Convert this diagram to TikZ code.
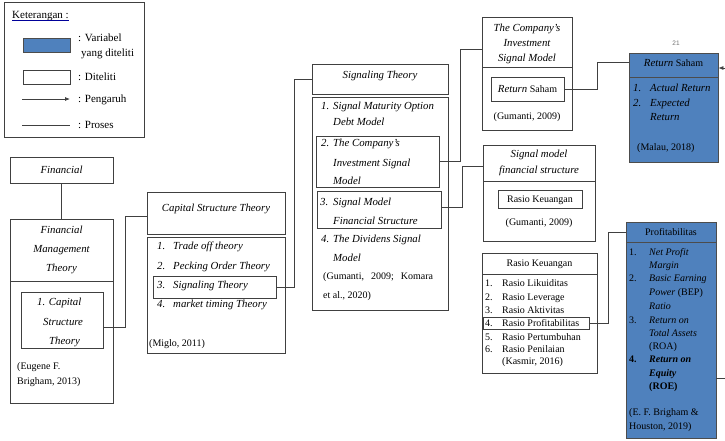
\documentclass[tikz,border=0pt]{standalone}
\usepackage{fontspec}
\setmainfont{Liberation Serif}
\setsansfont{Liberation Sans}
\usetikzlibrary{fit,arrows.meta}
\definecolor{bluefill}{HTML}{4F81BD}
\definecolor{ln}{HTML}{404040}
\newcounter{tn}
\newcommand\Tl[3]{\stepcounter{tn}\node[txl] (t\arabic{tn}) at (#1,#2+3.5) {#3};}
\newcommand\Tc[3]{\stepcounter{tn}\node[txc] (t\arabic{tn}) at (#1,#2+3.5) {#3};}
\newcommand\Bx[6][]{\node[bx,#1,fit={(#3,#4) (#5,#6)}] (#2) {};}
\newcommand\ii[1]{{\fontsize{10.8}{13}\selectfont\itshape #1}}
\newcommand\legtx[1]{{\fontsize{11}{13}\selectfont #1}}
\begin{document}
\begin{tikzpicture}[x=1pt,y=-1pt,
  txl/.style={anchor=base west,inner sep=0pt,font=\fontsize{10}{12}\selectfont},
  txc/.style={anchor=base,inner sep=0pt,font=\fontsize{10}{12}\selectfont},
  bx/.style={draw=ln,line width=0.75pt,inner sep=0pt},
  bluebx/.style={fill=bluefill,draw=black!70},
  conn/.style={draw=ln,line width=0.75pt},
  arr/.style={conn,-{Latex[length=5pt,width=4pt]}}]
\path[fill=white] (0,0) rectangle (725,440);
\useasboundingbox (0,0) rectangle (725,440);

% ---------- legend ----------
\Bx{leg}{4}{2}{144}{137}
\stepcounter{tn}\node[txl] (keter) at (12,18.5) {\legtx{Keterangan :}};
\draw[blue!60!black,line width=0.5pt] ([yshift=-2pt]keter.base west) -- ([yshift=-2pt]keter.base east);
\Bx[bluebx]{legblue}{23}{38}{70}{52}
\Bx{legwhite}{23}{70}{70}{84}
\coordinate (la1) at (22,99); \coordinate (la2) at (70,99);
\draw[arr] (la1) -- (la2);
\coordinate (ll1) at (22,125); \coordinate (ll2) at (70,125);
\draw[conn] (ll1) -- (ll2);
\Tl{78}{38}{\legtx{: Variabel}}
\Tl{81}{53}{\legtx{yang diteliti}}
\Tl{78}{77}{\legtx{: Diteliti}}
\Tl{78}{99}{\legtx{: Pengaruh}}
\Tl{78}{125}{\legtx{: Proses}}

% ---------- Financial ----------
\Bx{fin}{10}{157}{113}{183}
\Tc{61.5}{170}{\ii{Financial}}
\Bx{fmt}{10}{219}{113}{281}
\Bx{fmb}{10}{281}{113}{403}
\Tc{61.5}{230}{\ii{Financial}}
\Tc{61.5}{249}{\ii{Management}}
\Tc{61.5}{268}{\ii{Theory}}
\Bx{fmcap}{21}{292}{103}{348}
\Tl{37}{302}{\ii{1. Capital}}
\Tl{43}{322}{\ii{Structure}}
\Tl{49}{341}{\ii{Theory}}
\Tl{17}{366}{(Eugene F.}
\Tl{17}{381}{Brigham, 2013)}
\draw[conn] (fin.south) -- (fin.south |- fmt.north);

% ---------- Capital Structure Theory ----------
\Bx{cst}{147}{192}{285}{234}
\Bx{csb}{147}{237}{285}{353}
\Tc{216}{208}{\ii{Capital Structure Theory}}
\Bx{cs3}{153}{276}{276}{298}
\Tl{157}{246}{\ii{1.}} \Tl{173}{246}{\ii{Trade off theory}}
\Tl{157}{266}{\ii{2.}} \Tl{173}{266}{\ii{Pecking Order Theory}}
\Tl{157}{285}{\ii{3.}} \Tl{173}{285}{\ii{Signaling Theory}}
\Tl{157}{304}{\ii{4.}} \Tl{173}{304}{\ii{market timing Theory}}
\Tl{149}{343}{(Miglo, 2011)}
\draw[conn] ([yshift=-7pt]fmcap.east) -- ++(22,0) |- ([yshift=-3pt]cst.west);

% ---------- Signaling Theory ----------
\Bx{sgt}{312}{64}{448}{94}
\Bx{sgb}{312}{97}{448}{310}
\Tc{380}{75}{\ii{Signaling Theory}}
\Bx{sg2}{316}{136}{439}{187}
\Bx{sg3}{317}{191}{441}{228}
\Tl{321}{106}{\ii{1.}} \Tl{333}{106}{\ii{Signal Maturity Option}}
\Tl{333}{122}{\ii{Debt Model}}
\Tl{321}{143}{\ii{2.}} \Tl{333}{143}{\ii{The Company’s}}
\Tl{333}{163}{\ii{Investment Signal}}
\Tl{333}{181}{\ii{Model}}
\Tl{320}{202}{\ii{3.}} \Tl{333}{202}{\ii{Signal Model}}
\Tl{333}{221}{\ii{Financial Structure}}
\Tl{321}{239}{\ii{4.}} \Tl{333}{239}{\ii{The Dividens Signal}}
\Tl{333}{258}{\ii{Model}}
\Tl{323}{276}{(Gumanti,\hspace{7pt}2009;\hspace{7pt}Komara}
\Tl{323}{295}{et al., 2020)}
\draw[conn] (cs3.east) -- ++(18,0) |- (sgt.west);

% ---------- Company's Investment Signal Model ----------
\Bx{cit}{482}{17}{572}{67}
\Bx{cib}{482}{67}{572}{130}
\Tc{527}{28}{\ii{The Company’s}}
\Tc{527}{43}{\ii{Investment}}
\Tc{527}{58}{\ii{Signal Model}}
\Bx{cirs}{491}{77}{564}{101}
\Tc{527.5}{89}{\ii{Return} Saham}
\Tc{527}{116}{(Gumanti, 2009)}
\draw[conn] (sg2.east) -- ++(21,0) |- ([yshift=-7pt]cit.west);

% ---------- Return Saham (blue) ----------
\node[txc,font=\sffamily\fontsize{6.5}{8}\selectfont,text=black!55] (pg) at (676,45) {21};
\Bx[bluebx]{rst}{629}{53}{718}{77}
\Bx[bluebx]{rsb}{629}{77}{718}{162}
\Tc{673.5}{63}{\ii{Return} Saham}
\Tl{633}{88}{\ii{1.}} \Tl{650}{88}{\ii{Actual Return}}
\Tl{633}{103}{\ii{2.}} \Tl{650}{103}{\ii{Expected}}
\Tl{650}{117}{\ii{Return}}
\Tl{637}{147}{(Malau, 2018)}
\draw[conn] (cirs.east) -- ++(33,0) |- ([yshift=3pt]rst.west);
\coordinate (edgeA) at (725,68);
\draw[arr] (edgeA) -- ([yshift=-3pt]rst.east);

% ---------- Signal model financial structure ----------
\Bx{smt}{483}{145}{595}{181}
\Bx{smb}{483}{181}{595}{241}
\Tc{539}{154}{\ii{Signal model}}
\Tc{539}{170}{\ii{financial structure}}
\Bx{smrk}{498}{190}{582}{208}
\Tc{540}{199}{Rasio Keuangan}
\Tc{539}{222}{(Gumanti, 2009)}
\draw[conn] ([yshift=2.5pt]sg3.east) -- ++(21,0) |- ([yshift=-3pt]smt.west);

% ---------- Rasio Keuangan ----------
\Bx{rkt}{482}{253}{597}{274}
\Bx{rkb}{482}{274}{597}{373}
\Tc{539.5}{263}{Rasio Keuangan}
\Bx{rkp}{483}{317}{589}{329}
\Tl{485}{283}{1.} \Tl{502}{283}{Rasio Likuiditas}
\Tl{485}{296.5}{2.} \Tl{502}{296.5}{Rasio Leverage}
\Tl{485}{310}{3.} \Tl{502}{310}{Rasio Aktivitas}
\Tl{485}{323}{4.} \Tl{502}{323}{Rasio Profitabilitas}
\Tl{485}{336.5}{5.} \Tl{502}{336.5}{Rasio Pertumbuhan}
\Tl{485}{349}{6.} \Tl{502}{349}{Rasio Penilaian}
\Tl{502}{361}{(Kasmir, 2016)}

% ---------- Profitabilitas (blue) ----------
\Bx[bluebx]{pft}{626}{222}{716}{242}
\Bx[bluebx]{pfb}{626}{242}{716}{438}
\Tc{671}{232}{Profitabilitas}
\Tl{629}{252}{1.} \Tl{649}{252}{\textit{Net Profit}}
\Tl{649}{265}{\textit{Margin}}
\Tl{629}{278}{2.} \Tl{649}{278}{\textit{Basic Earning}}
\Tl{649}{292}{\textit{Power} (BEP)}
\Tl{649}{306}{\textit{Ratio}}
\Tl{629}{320}{3.} \Tl{649}{320}{\textit{Return on}}
\Tl{649}{333}{\textit{Total Assets}}
\Tl{649}{346}{(ROA)}
\Tl{629}{359}{\textbf{4.}} \Tl{649}{359}{\textbf{\textit{Return on}}}
\Tl{649}{373}{\textbf{\textit{Equity}}}
\Tl{649}{386}{\textbf{(ROE)}}
\Tl{629}{412}{(E. F. Brigham \&}
\Tl{629}{426}{Houston, 2019)}
\draw[conn] (rkp.east) -- ++(19,0) |- (pft.west);
\coordinate (edgeB) at (725,378);
\draw[conn] (pfb.east |- edgeB) -- (edgeB);
\end{tikzpicture}
\end{document}
